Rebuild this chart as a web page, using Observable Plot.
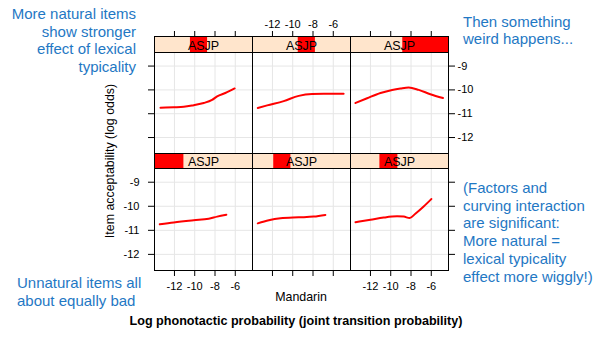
<!DOCTYPE html>
<html><head><meta charset="utf-8">
<script src="https://cdn.jsdelivr.net/npm/d3@7"></script>
<script src="https://cdn.jsdelivr.net/npm/@observablehq/plot@0.6"></script>
<style>
html,body{margin:0;padding:0;background:#fff;}
#chart{position:relative;width:593px;height:337px;overflow:hidden;background:#fff;font-family:"Liberation Sans",Arial,sans-serif;}
#chart svg{position:absolute;}
.note{position:absolute;color:#1F78C4;font-size:15px;line-height:17.7px;white-space:nowrap;}
.lab{position:absolute;color:#000;white-space:nowrap;}
</style></head><body><div id="chart"></div>
<script>
// ---- data ----
const xTicks = [-12, -10, -8, -6];
const yTicks = [-12, -11, -10, -9];
const xTickLabels = ["-12", "-10", "-8", "-6"];
const yTickLabels = ["-12", "-11", "-10", "-9"];
const stripLabel = "ASJP";
// shingle (ASJP) level intervals, levels 1..6
const asjpRange = [-16, -4];
const asjpLow  = [-16.0, -13.4, -12.4, -11.6, -10.4, -9.6];
const asjpHigh = [-12.4, -11.3, -10.2, -9.5, -8.3, -4.0];
// panels: level 1 = bottom-left ... level 6 = top-right
const mandarin1 = [-13.45, -12.07, -10.1, -8.62, -7.79, -6.88];
const accept1   = [-10.75, -10.67, -10.58, -10.52, -10.43, -10.35];
const mandarin2 = [-13.45, -12.36, -11.21, -9.41, -7.93, -6.78];
const accept2   = [-10.71, -10.58, -10.5, -10.46, -10.43, -10.36];
const mandarin3 = [-13.48, -12.0, -10.69, -9.37, -8.72, -8.13, -7.57, -6.75, -5.99];
const accept3   = [-10.66, -10.56, -10.47, -10.42, -10.43, -10.49, -10.31, -10.01, -9.7];
const mandarin4 = [-13.38, -12.07, -11.08, -10.1, -9.11, -8.29, -7.79, -6.98, -6.06];
const accept4   = [-10.75, -10.73, -10.71, -10.64, -10.55, -10.42, -10.27, -10.13, -9.94];
const mandarin5 = [-13.45, -12.52, -10.89, -9.41, -8.09, -6.95, -4.98];
const accept5   = [-10.76, -10.65, -10.47, -10.25, -10.17, -10.16, -10.16];
const mandarin6 = [-13.48, -12.33, -11.01, -9.86, -9.04, -8.23, -7.24, -6.09, -4.84];
const accept6   = [-10.55, -10.35, -10.13, -10.0, -9.94, -9.9, -10.0, -10.18, -10.34];

const mandarins = [mandarin1, mandarin2, mandarin3, mandarin4, mandarin5, mandarin6];
const accepts = [accept1, accept2, accept3, accept4, accept5, accept6];

// ---- layout ----
const xDomain = [-13.97, -4.3];
const yDomain = [-12.67, -8.43];
const colX = [154, 252, 350];
const panelW = 98;
const rows = [ // row 0 = top, row 1 = bottom
  {strip: 36, stripH: 16, panel: 52, panelH: 101},
  {strip: 153, stripH: 15, panel: 168, panelH: 102}
];
const chart = document.getElementById("chart");
const baseStyle = {background: "transparent", overflow: "visible", fontFamily: "'Liberation Sans', Arial, sans-serif", fontSize: "11px", color: "black"};
const xFmt = d => xTickLabels[xTicks.indexOf(d)];
const yFmt = d => yTickLabels[yTicks.indexOf(d)];
const blank = () => "";

function place(svg, left, top) {
  svg.style.left = left + "px";
  svg.style.top = top + "px";
  chart.appendChild(svg);
}

const ml = 40, mr = 40, mt = 10, mb = 30;
for (let level = 1; level <= 6; level++) {
  const row = level <= 3 ? 1 : 0;
  const col = (level - 1) % 3;
  const R = rows[row];
  const data = mandarins[level - 1].map((m, i) => ({m, a: accepts[level - 1][i]}));
  const marks = [
    Plot.gridX(xTicks, {stroke: "#e6e6e6", strokeOpacity: 1, strokeWidth: 1}),
    Plot.gridY(yTicks, {stroke: "#e6e6e6", strokeOpacity: 1, strokeWidth: 1}),
    Plot.line(data, {x: "m", y: "a", stroke: "#ff0000", strokeWidth: 2, curve: "monotone-x"})
  ];
  if (col === 0) marks.push(Plot.axisY(yTicks, {anchor: "left", tickSize: 6, tickPadding: 9, label: null, tickFormat: row === 1 ? yFmt : blank}));
  if (col === 2) marks.push(Plot.axisY(yTicks, {anchor: "right", tickSize: 6, tickPadding: 3, label: null, tickFormat: row === 0 ? yFmt : blank}));
  if (row === 1) marks.push(Plot.axisX(xTicks, {anchor: "bottom", tickSize: 6, tickPadding: 6, label: null, tickFormat: col !== 1 ? xFmt : blank}));
  marks.push(Plot.frame({stroke: "black", strokeWidth: 1}));
  const svg = Plot.plot({
    width: panelW + ml + mr, height: R.panelH + mt + mb,
    marginLeft: ml, marginRight: mr, marginTop: mt, marginBottom: mb,
    x: {domain: xDomain, axis: null}, y: {domain: yDomain, axis: null},
    style: baseStyle, marks
  });
  place(svg, colX[col] - ml, R.panel - mt);

  // strip with shingle indicator
  const strip = Plot.plot({
    width: panelW, height: R.stripH, margin: 0,
    x: {domain: asjpRange, axis: null},
    style: {...baseStyle, fontSize: "12.5px"},
    marks: [
      Plot.frame({fill: "#ffe5cc", stroke: null}),
      Plot.barX([level - 1], {x1: i => asjpLow[i], x2: i => asjpHigh[i], fill: "#ff0000"}),
      Plot.text([stripLabel], {frameAnchor: "middle", fill: "black", dy: 1}),
      Plot.frame({stroke: "black", strokeWidth: 1})
    ]
  });
  place(strip, colX[col], R.strip);

  if (row === 0) {
    const topAxis = Plot.plot({
      width: panelW + ml + mr, height: 52, marginLeft: ml, marginRight: mr, marginTop: 36, marginBottom: 0,
      x: {domain: xDomain, axis: null},
      style: baseStyle,
      marks: [Plot.axisX(xTicks, {anchor: "top", tickSize: 6, tickPadding: 3, label: null, tickFormat: col === 1 ? xFmt : blank})]
    });
    place(topAxis, colX[col] - ml, 0);
  }
}

// ---- texts ----
function addDiv(cls, html, css) {
  const d = document.createElement("div");
  d.className = cls;
  d.innerHTML = html;
  Object.assign(d.style, css);
  chart.appendChild(d);
}
addDiv("note", "More natural items<br>show stronger<br>effect of lexical<br>typicality", {right: "457px", top: "5px", textAlign: "right"});
addDiv("note", "Then something<br>weird happens...", {left: "463px", top: "12.5px"});
addDiv("note", "(Factors and<br>curving interaction<br>are significant:<br>More natural =<br>lexical typicality<br>effect more wiggly!)", {left: "463px", top: "179px"});
addDiv("note", "Unnatural items all<br>about equally bad", {left: "17px", top: "274px"});
addDiv("lab", "Mandarin", {left: "301px", top: "290px", fontSize: "12.4px", lineHeight: "14px", transform: "translateX(-50%)"});
addDiv("lab", "Log phonotactic probability (joint transition probability)", {left: "296px", top: "313.5px", fontSize: "12.6px", fontWeight: "bold", lineHeight: "14px", transform: "translateX(-50%)"});
addDiv("lab", "Item acceptability (log odds)", {left: "110px", top: "161px", fontSize: "12.4px", lineHeight: "14px", transform: "translate(-50%,-50%) rotate(-90deg)"});
</script></body></html>
